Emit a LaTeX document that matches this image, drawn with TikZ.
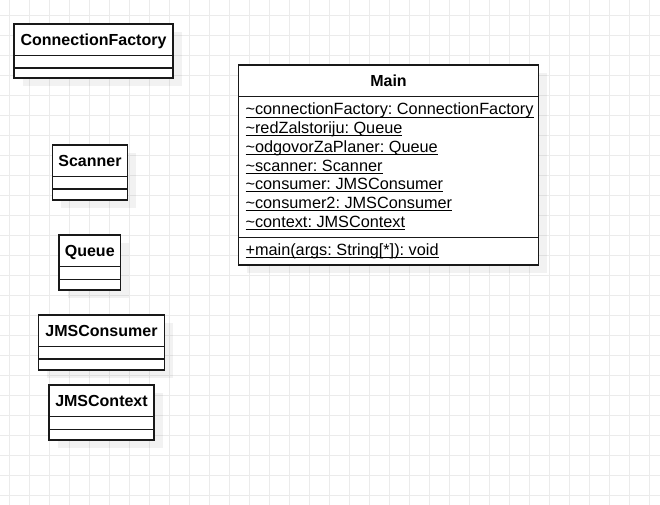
\documentclass[tikz,border=0pt]{standalone}
\usepackage{fontspec}
\setmainfont{Liberation Sans}
\frenchspacing
\newcommand{\ulattr}[1]{\underline{\smash{#1}}}

\begin{document}
\begin{tikzpicture}[x=0.75pt,y=-0.75pt,
    gridline/.style={black!8,line width=0.75pt},
    shadow/.style={fill=black,opacity=0.05},
    classbox/.style={draw=black!90,fill=white,line width=0.9pt},
    divider/.style={draw=black!90,line width=0.9pt},
    title/.style={font=\fontsize{12}{14}\selectfont\bfseries,anchor=base,inner sep=0pt},
    member/.style={font=\fontsize{12.2}{14}\selectfont,anchor=base west,inner sep=0pt}]
    \useasboundingbox (0,0) rectangle (660,505);
    \fill[white] (0,0) rectangle (660,505);
    \foreach \x in {9.5,29.5,...,649.5} \draw[gridline] (\x,0)--(\x,505);
    \foreach \y in {15.3,35.3,...,495.3} \draw[gridline] (0,\y)--(660,\y);

    % ConnectionFactory
    \fill[shadow] (22.5,32.5) rectangle (181.5,86.5);
    \draw[classbox] (14,24) rectangle (173,78);
    \draw[divider] (14,55.5)--(173,55.5) (14,68)--(173,68);
    \node[title] (cf) at (93.5,45.5) {ConnectionFactory};

    % Scanner
    \fill[shadow] (61,153.5) rectangle (136,208.5);
    \draw[classbox] (52.5,145) rectangle (127.5,200);
    \draw[divider] (52.5,176.5)--(127.5,176.5) (52.5,189)--(127.5,189);
    \node[title] (scanner) at (90,166.5) {Scanner};

    % Queue
    \fill[shadow] (67.5,243.5) rectangle (129,298.5);
    \draw[classbox] (59,235) rectangle (120.5,290);
    \draw[divider] (59,266.5)--(120.5,266.5) (59,279.5)--(120.5,279.5);
    \node[title] (queue) at (89.75,256.5) {Queue};

    % JMSConsumer
    \fill[shadow] (47,323.5) rectangle (173,378.5);
    \draw[classbox] (38.5,315) rectangle (164.5,370);
    \draw[divider] (38.5,346.5)--(164.5,346.5) (38.5,359)--(164.5,359);
    \node[title] (consumer) at (101.5,336.5) {JMSConsumer};

    % JMSContext
    \fill[shadow] (57.5,393.5) rectangle (162.5,448.5);
    \draw[classbox] (49,385) rectangle (154,440);
    \draw[divider] (49,416.5)--(154,416.5) (49,429.5)--(154,429.5);
    \node[title] (context) at (101.5,406.5) {JMSContext};

    % Main
    \fill[shadow] (247,73.5) rectangle (547,273.5);
    \draw[classbox] (238.5,65) rectangle (538.5,265);
    \draw[divider] (238.5,96.5)--(538.5,96.5) (238.5,237.5)--(538.5,237.5);
    \node[title] (main) at (388.5,86.6) {Main};
    \foreach \txt [count=\i from 0] in {connectionFactory: ConnectionFactory,
        redZalstoriju: Queue, odgovorZaPlaner: Queue, scanner: Scanner,
        consumer: JMSConsumer, consumer2: JMSConsumer, context: JMSContext}
        \node[member] (attr\i) at (245.3,115+18.67*\i) {\ulattr{\textasciitilde\txt}};
    \node[member] (method) at (245.3,255.5) {\ulattr{+main(args: String[*]): void}};
\end{tikzpicture}
\end{document}
